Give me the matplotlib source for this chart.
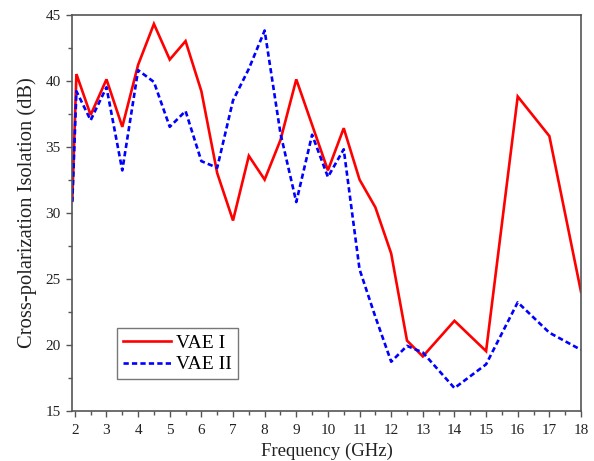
import matplotlib
matplotlib.use("Agg")
import matplotlib.pyplot as plt
from matplotlib.ticker import MultipleLocator

freq_1 = [1.92, 2.05, 2.5, 3, 3.5, 4, 4.5, 5, 5.5, 6, 6.5, 7, 7.5, 8, 8.5, 9,
          10, 10.5, 11, 11.5, 12, 12.5, 13, 14, 15, 16, 17, 18]
vae_1 = [31.0, 40.5, 37.4, 40.1, 36.5, 41.2, 44.3, 41.6, 43.0, 39.2, 33.0, 29.4,
         34.3, 32.5, 35.5, 40.1, 33.2, 36.4, 32.5, 30.4, 26.9, 20.3, 19.1, 21.8,
         19.5, 38.8, 35.8, 24.0]

freq_2 = [1.92, 2.05, 2.5, 3, 3.5, 4, 4.5, 5, 5.5, 6, 6.5, 7, 7.5, 8, 8.5, 9,
          9.5, 10, 10.5, 11, 11.5, 12, 12.5, 13, 14, 15, 16, 17, 18]
vae_2 = [30.8, 39.2, 37.0, 39.5, 33.2, 40.8, 39.9, 36.5, 37.7, 33.9, 33.4, 38.5,
         40.9, 43.8, 36.0, 30.8, 35.9, 32.7, 34.8, 25.7, 22.1, 18.7, 19.9, 19.4,
         16.7, 18.5, 23.2, 20.9, 19.6]

x_ticks = list(range(2, 19))
y_ticks = [15, 20, 25, 30, 35, 40, 45]

plt.rcParams['font.family'] = ['Liberation Serif', 'DejaVu Serif']

fig = plt.figure(figsize=(5.94, 4.61), dpi=100)
ax = fig.add_axes([0.1212, 0.1095, 0.8569, 0.8586])

ax.plot(freq_1, vae_1, color='#FF0000', lw=1.9, label='VAE I', solid_joinstyle='miter')
ax.plot(freq_2, vae_2, color='#0000FF', lw=1.9, ls=(0, (2.0, 1.2)), label='VAE II')

ax.set_xlim(1.91, 18)
ax.set_ylim(15, 45)
ax.set_xticks(x_ticks)
ax.set_yticks(y_ticks)
ax.xaxis.set_minor_locator(MultipleLocator(0.5))
ax.yaxis.set_minor_locator(MultipleLocator(2.5))

for s in ax.spines.values():
    s.set_color('#555555')
    s.set_linewidth(1.2)
ax.tick_params(which='both', direction='out', colors='#555555', labelcolor='#222222',
               labelsize=11, width=1.0)
ax.tick_params(which='major', length=4.5)
ax.tick_params(which='minor', length=3)
ax.tick_params(axis='x', which='major', pad=5)

ax.set_xlabel('Frequency (GHz)', fontsize=13.5, color='#222222', labelpad=4)
ax.set_ylabel('Cross-polarization Isolation (dB)', fontsize=14.8, color='#222222', labelpad=6)

leg = ax.legend(loc='lower left', bbox_to_anchor=(0.088, 0.079), borderaxespad=0,
                fontsize=14, handlelength=2.5, handletextpad=0.25, labelspacing=0.2,
                borderpad=0.3, fancybox=False, framealpha=1, edgecolor='#777777')
leg.get_frame().set_linewidth(1.0)

fig.savefig('out.png', dpi=100)
